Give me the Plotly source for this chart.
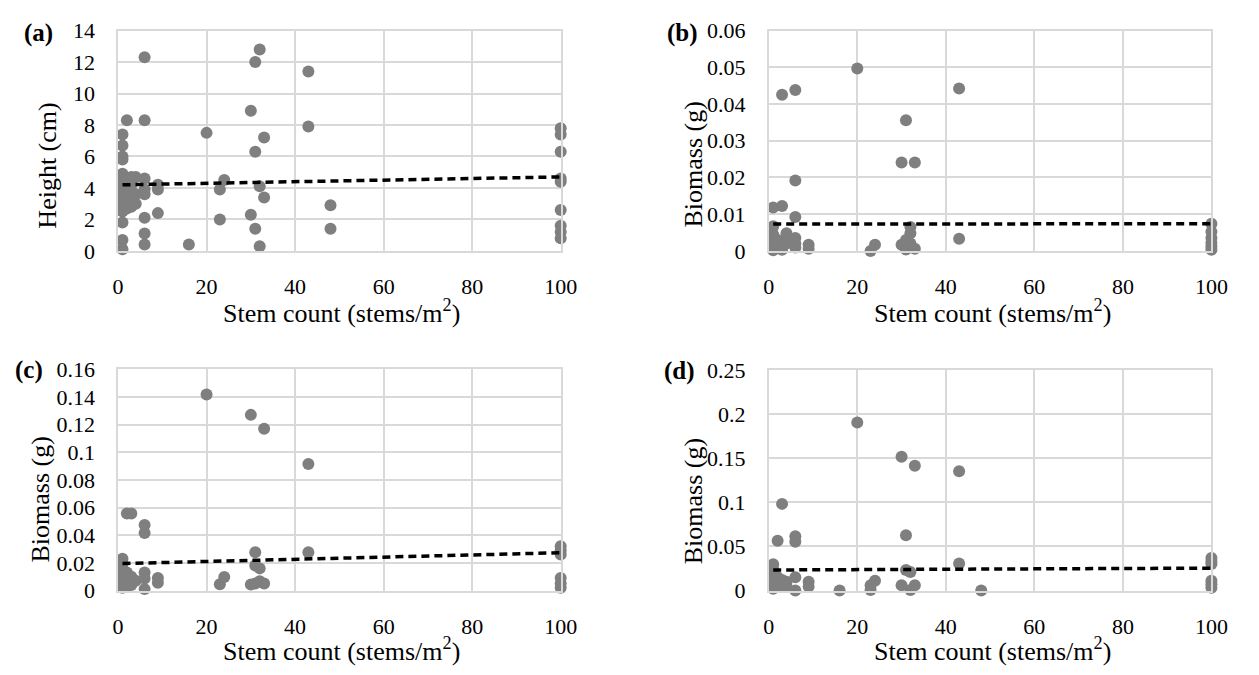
import plotly.graph_objects as go
from plotly.subplots import make_subplots

# ---------------- data ----------------
stem_a = [1, 1, 1, 1, 1, 1, 1, 1, 1, 1, 1, 1, 1, 1,
          2, 2, 2, 2, 2,
          3, 3, 3, 3, 3,
          4, 4, 4,
          6, 6, 6, 6, 6, 6, 6, 6,
          9, 9, 9,
          16, 20, 23, 23, 24, 30, 30, 31, 31, 31, 32, 32, 32, 33, 33, 43, 43, 48, 48,
          100, 100, 100, 100, 100, 100, 100, 100, 100]
height_a = [7.4, 6.7, 6.0, 5.8, 4.9, 4.4, 4.0, 3.6, 3.3, 2.8, 2.5, 1.8, 0.7, 0.1,
            8.3, 4.6, 3.7, 3.4, 2.7,
            4.7, 4.2, 3.8, 3.2, 2.8,
            4.7, 3.6, 3.0,
            12.3, 8.3, 4.6, 3.9, 3.6, 2.1, 1.1, 0.4,
            4.2, 3.9, 2.4,
            0.4, 7.5, 3.9, 2.0, 4.5, 8.9, 2.3, 12.0, 6.3, 1.4, 12.8, 4.1, 0.3, 7.2, 3.4, 11.4, 7.9, 2.9, 1.4,
            7.8, 7.4, 6.3, 4.6, 4.4, 2.6, 1.6, 1.2, 0.8]

stem_b = [1, 1, 1, 1, 1, 1, 1, 1,
          2, 2,
          3, 3, 3, 3, 3,
          4, 4,
          6, 6, 6, 6, 6, 6,
          9, 9,
          20, 23, 24, 30, 30, 31, 31, 31, 32, 32, 32, 33, 33, 43, 43,
          100, 100, 100, 100, 100, 100]
biomass_b = [0.0118, 0.0067, 0.0045, 0.0035, 0.0025, 0.0015, 0.0008, 0.0002,
             0.003, 0.0015,
             0.0122, 0.0425, 0.0025, 0.001, 0.0003,
             0.0048, 0.002,
             0.0438, 0.0192, 0.0092, 0.0035, 0.002, 0.0009,
             0.0017, 0.0006,
             0.0497, 0.0, 0.0017, 0.0241, 0.0017, 0.0356, 0.003, 0.0004, 0.0065, 0.0048, 0.002, 0.0241, 0.0006, 0.0442, 0.0033,
             0.0074, 0.0052, 0.0035, 0.0022, 0.0012, 0.0003]

stem_c = [1, 1, 1, 1, 1, 1,
          2, 2, 2, 2,
          3, 3, 3,
          4,
          6, 6, 6, 6, 6,
          9, 9,
          20, 23, 24, 30, 30, 31, 31, 31, 32, 32, 33, 33, 43, 43,
          100, 100, 100, 100, 100, 100]
biomass_c = [0.023, 0.019, 0.015, 0.010, 0.005, 0.002,
             0.0557, 0.013, 0.008, 0.003,
             0.0557, 0.010, 0.004,
             0.007,
             0.0474, 0.0416, 0.013, 0.0086, 0.001,
             0.009, 0.0056,
             0.1417, 0.0046, 0.0098, 0.127, 0.0044, 0.0276, 0.018, 0.005, 0.016, 0.0067, 0.117, 0.005, 0.0915, 0.0276,
             0.032, 0.029, 0.026, 0.009, 0.005, 0.002]

stem_d = [1, 1, 1, 1, 1, 1,
          2, 2, 2,
          3, 3, 3,
          4, 4,
          6, 6, 6, 6,
          9, 9,
          16, 20, 23, 23, 24, 30, 30, 31, 31, 32, 32, 33, 33, 43, 43, 48,
          100, 100, 100, 100, 100, 100]
biomass_d = [0.0298, 0.024, 0.018, 0.012, 0.006, 0.002,
             0.0564, 0.015, 0.008,
             0.0983, 0.012, 0.004,
             0.010, 0.005,
             0.0615, 0.0553, 0.015, 0.0,
             0.010, 0.0044,
             0.0, 0.1907, 0.006, 0.0007, 0.011, 0.1517, 0.006, 0.0626, 0.0233, 0.021, 0.0007, 0.1416, 0.006, 0.1354, 0.0306, 0.0,
             0.037, 0.033, 0.030, 0.011, 0.007, 0.003]

# linear trend lines (end values)
trend_x = [1, 100]
trend_a = [4.2, 4.7]
trend_b = [0.0073, 0.0074]
trend_c = [0.0195, 0.0273]
trend_d = [0.0233, 0.0254]

x_ticks = [0, 20, 40, 60, 80, 100]
y_ranges = {"a": (0, 14, 2), "b": (0, 0.06, 0.01), "c": (0, 0.16, 0.02), "d": (0, 0.25, 0.05)}
panel_labels = ["(a)", "(b)", "(c)", "(d)"]
y_titles = ["Height (cm)", "Biomass (g)", "Biomass (g)", "Biomass (g)"]
x_title = "Stem count (stems/m<sup>2</sup>)"

# ---------------- figure ----------------
# The page body keeps an 8px margin; size the figure to fit inside the
# 1259x675 window and work in window pixel coordinates.
OFF = 8
W, H = 1259 - 2 * OFF, 675 - 2 * OFF
FONT = "Liberation Serif"
GREY = "#7f7f7f"
GRID = "#d9d9d9"


def fx(px):
    return (px - OFF) / W


def fy(py):
    return 1 - (py - OFF) / H


fig = make_subplots(rows=2, cols=2)

panels = [
    (1, 1, stem_a, height_a, trend_a),
    (1, 2, stem_b, biomass_b, trend_b),
    (2, 1, stem_c, biomass_c, trend_c),
    (2, 2, stem_d, biomass_d, trend_d),
]

for r, c, xs, ys, tr in panels:
    fig.add_trace(go.Scatter(x=xs, y=ys, mode="markers",
                             marker=dict(color=GREY, size=12, line=dict(width=0)),
                             cliponaxis=False, showlegend=False, hoverinfo="skip"), row=r, col=c)
    fig.add_trace(go.Scatter(x=trend_x, y=tr, mode="lines",
                             line=dict(color="black", width=3.5, dash="8px,5px"),
                             cliponaxis=False, showlegend=False, hoverinfo="skip"), row=r, col=c)

# pixel geometry of plot areas (left, right, top, bottom) in window pixels
boxes = {
    "a": (114, 565, 19, 248),
    "b": (777, 1228, 19, 248),
    "c": (114, 565, 371, 601),
    "d": (777, 1228, 372, 601),
}
axis_ids = {"a": ("xaxis", "yaxis"), "b": ("xaxis2", "yaxis2"),
            "c": ("xaxis3", "yaxis3"), "d": ("xaxis4", "yaxis4")}

layout_upd = {}
for key, (l, rgt, t, b) in boxes.items():
    xa, ya = axis_ids[key]
    y0, y1, dy = y_ranges[key]
    layout_upd[xa] = dict(domain=[fx(l), fx(rgt)], range=[0, 100], tickvals=x_ticks,
                          showgrid=True, gridcolor=GRID, gridwidth=1.5, zeroline=False,
                          showline=True, linecolor=GRID, linewidth=1.5, mirror=True,
                          ticks="", ticklabelstandoff=15,
                          tickfont=dict(family=FONT, size=22, color="black"))
    layout_upd[ya] = dict(domain=[fy(b), fy(t)], range=[y0, y1], dtick=dy, tick0=0,
                          showgrid=True, gridcolor=GRID, gridwidth=1.5, zeroline=False,
                          showline=True, linecolor=GRID, linewidth=1.5, mirror=True,
                          ticks="", ticklabelstandoff=17,
                          tickfont=dict(family=FONT, size=22, color="black"))
fig.update_layout(**layout_upd)

annotations = []
label_pos = [(33, 22), (689, 22), (23, 372), (686, 373)]
ytitle_pos = [(42, 159), (700, 158), (35, 507), (700, 508)]
xtitle_pos = [(342, 311), (1005, 311), (342, 662), (1005, 662)]
for i in range(4):
    lx, ly = label_pos[i]
    annotations.append(dict(text="<b>%s</b>" % panel_labels[i], x=fx(lx), y=fy(ly),
                            xref="paper", yref="paper", showarrow=False,
                            xanchor="center", yanchor="middle",
                            font=dict(family=FONT, size=25, color="black")))
    tx, ty = ytitle_pos[i]
    annotations.append(dict(text=y_titles[i], x=fx(tx), y=fy(ty), textangle=-90,
                            xref="paper", yref="paper", showarrow=False,
                            xanchor="center", yanchor="middle",
                            font=dict(family=FONT, size=26, color="black")))
    xx, xy = xtitle_pos[i]
    annotations.append(dict(text=x_title, x=fx(xx), y=fy(xy),
                            xref="paper", yref="paper", showarrow=False,
                            xanchor="center", yanchor="middle",
                            font=dict(family=FONT, size=26, color="black")))

fig.update_layout(width=W, height=H, margin=dict(l=0, r=0, t=0, b=0),
                  paper_bgcolor="white", plot_bgcolor="white",
                  annotations=annotations, showlegend=False)

fig.write_html("out.html", config={"displayModeBar": False})
